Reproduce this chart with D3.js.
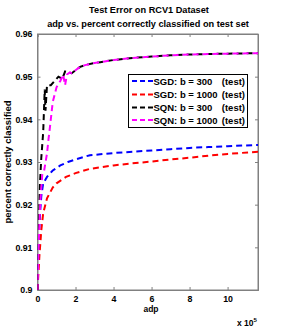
<!DOCTYPE html>
<html><head><meta charset="utf-8">
<script src="https://cdn.jsdelivr.net/npm/d3@7"></script>
<style>body{margin:0;background:#fff}svg{display:block}text{font-family:"Liberation Sans",Arial,sans-serif;font-weight:bold}</style>
</head><body>
<script>
const xTicks = [0, 2, 4, 6, 8, 10];
const yTicks = [0.9, 0.91, 0.92, 0.93, 0.94, 0.95, 0.96];
const seriesNames = ["SGD: b = 300", "SGD: b = 1000", "SQN: b = 300", "SQN: b = 1000"];
const seriesColors = ["#0000ff", "#ff0000", "#000000", "#ff00ff"];
// x in units of 1e5 adp
const sgd300X = [0, 0.03, 0.06, 0.1, 0.15, 0.2, 0.3, 0.5, 0.8, 1.2, 1.6, 2.0, 2.76, 3.3, 4, 5, 6, 7, 8, 9, 10, 11.6];
const sgd300Y = [0.900, 0.905, 0.910, 0.915, 0.919, 0.922, 0.925, 0.9265, 0.928, 0.9292, 0.9300, 0.9306, 0.9316, 0.9318, 0.9321, 0.9324, 0.9327, 0.9330, 0.9333, 0.9335, 0.9337, 0.9340];
const sgd1000X = [0, 0.05, 0.1, 0.2, 0.3, 0.5, 0.8, 1.0, 1.5, 2.0, 2.76, 4, 5, 6, 7, 8, 9, 10, 11.6];
const sgd1000Y = [0.900, 0.904, 0.908, 0.914, 0.918, 0.9215, 0.924, 0.925, 0.9265, 0.9274, 0.9284, 0.9292, 0.9297, 0.9301, 0.9306, 0.9310, 0.9315, 0.9319, 0.9324];
const sqn300X = [0, 0.03, 0.08, 0.13, 0.2, 0.3, 0.38, 0.42, 0.5, 0.7, 0.9, 1.1, 1.3, 1.45, 1.6, 1.8, 2.0, 2.24, 2.5, 3.0, 3.3, 4, 5, 6, 7, 8, 9, 10, 11.6];
const sqn300Y = [0.900, 0.906, 0.915, 0.925, 0.931, 0.937, 0.947, 0.942, 0.948, 0.948, 0.949, 0.950, 0.9495, 0.9512, 0.951, 0.9508, 0.9515, 0.9523, 0.9527, 0.9532, 0.9534, 0.9539, 0.9544, 0.9547, 0.9550, 0.9552, 0.9553, 0.9554, 0.9555];
const sqn1000X = [0, 0.03, 0.08, 0.15, 0.25, 0.35, 0.5, 0.57, 0.65, 0.8, 1.0, 1.2, 1.35, 1.45, 1.55, 1.7, 1.8, 2.0, 2.24, 2.5, 3.0, 3.3, 4, 5, 6, 7, 8, 9, 10, 11.6];
const sqn1000Y = [0.900, 0.905, 0.913, 0.921, 0.927, 0.928, 0.932, 0.935, 0.938, 0.944, 0.9475, 0.949, 0.9505, 0.948, 0.9505, 0.951, 0.9508, 0.9515, 0.9523, 0.9527, 0.9532, 0.9534, 0.9539, 0.9544, 0.9547, 0.9550, 0.9552, 0.9553, 0.9554, 0.9555];
const seriesX = [sgd300X, sgd1000X, sqn300X, sqn1000X];
const seriesY = [sgd300Y, sgd1000Y, sqn300Y, sqn1000Y];

const W = 285, H = 327;
const m = {left: 37.5, right: 27, top: 34, bottom: 37};
const svg = d3.select("body").append("svg").attr("width", W).attr("height", H);
const x = d3.scaleLinear().domain([0, 11.6]).range([m.left, W - m.right]);
const y = d3.scaleLinear().domain([0.9, 0.96]).range([H - m.bottom, m.top]);
const axisColor = "#808080";

svg.append("rect").attr("x", x(0)).attr("y", y(0.96)).attr("width", x(11.6) - x(0)).attr("height", y(0.9) - y(0.96))
  .attr("fill", "#fff").attr("stroke", axisColor).attr("stroke-width", 1);

const gx = svg.append("g").attr("transform", `translate(0,${y(0.9)})`)
  .call(d3.axisBottom(x).tickValues(xTicks).tickSize(-3).tickPadding(6).tickFormat(d3.format("d")));
const gxt = svg.append("g").attr("transform", `translate(0,${y(0.96)})`)
  .call(d3.axisTop(x).tickValues(xTicks).tickSize(-3).tickFormat(""));
const gy = svg.append("g").attr("transform", `translate(${x(0)},0)`)
  .call(d3.axisLeft(y).tickValues(yTicks).tickSize(-3).tickPadding(5).tickFormat(d => d3.format("")(+d.toFixed(2))));
const gyr = svg.append("g").attr("transform", `translate(${x(11.6)},0)`)
  .call(d3.axisRight(y).tickValues(yTicks).tickSize(-3).tickFormat(""));
[gx, gxt, gy, gyr].forEach(g => {
  g.select(".domain").attr("stroke", axisColor);
  g.selectAll(".tick line").attr("stroke", axisColor);
  g.selectAll("text").attr("fill", "#000").style("font-size", "8.8px").style("font-family", "'Liberation Sans',Arial,sans-serif").style("font-weight", "bold");
});

svg.append("clipPath").attr("id", "clip").append("rect").attr("x", x(0)).attr("y", y(0.96) - 2).attr("width", x(11.6) - x(0)).attr("height", y(0.9) - y(0.96) + 2);
const line = d3.line().x(d => x(d[0])).y(d => y(d[1]));
seriesX.forEach((xs, i) => {
  const pts = xs.map((v, j) => [v, seriesY[i][j]]);
  svg.append("path").datum(pts).attr("d", line).attr("fill", "none")
    .attr("stroke", seriesColors[i]).attr("stroke-width", 2).attr("stroke-dasharray", "6,4")
    .attr("clip-path", "url(#clip)");
});

svg.append("text").attr("x", 149).attr("y", 12.5).attr("text-anchor", "middle").style("font-size", "9.2px").text("Test Error on RCV1 Dataset");
svg.append("text").attr("x", 148).attr("y", 27).attr("text-anchor", "middle").style("font-size", "9.2px").text("adp vs. percent correctly classified on test set");
svg.append("text").attr("x", 151).attr("y", 312).attr("text-anchor", "middle").style("font-size", "8.5px").text("adp");
const xe = svg.append("text").attr("x", 237).attr("y", 326).style("font-size", "8.5px");
xe.append("tspan").text("x 10");
xe.append("tspan").attr("dy", -4).style("font-size", "6px").text("5");
svg.append("text").attr("transform", `translate(11,${(y(0.9) + y(0.96)) / 2}) rotate(-90)`).attr("text-anchor", "middle")
  .style("font-size", "9.5px").text("percent correctly classified");

const lg = svg.append("g");
lg.append("rect").attr("x", 128.5).attr("y", 74.5).attr("width", 119).attr("height", 53).attr("fill", "#fff").attr("stroke", "#000").attr("stroke-width", 1);
const rowY = [81, 94.5, 107.5, 120];
seriesNames.forEach((name, i) => {
  lg.append("line").attr("x1", 132).attr("x2", 153).attr("y1", rowY[i]).attr("y2", rowY[i])
    .attr("stroke", seriesColors[i]).attr("stroke-width", 2).attr("stroke-dasharray", "5,3");
  lg.append("text").attr("x", 153.5).attr("y", rowY[i] + 3.5).style("font-size", "9.5px").text(name);
  lg.append("text").attr("x", 245).attr("y", rowY[i] + 3.5).attr("text-anchor", "end").style("font-size", "9.5px").text("(test)");
});
</script>
</body></html>
